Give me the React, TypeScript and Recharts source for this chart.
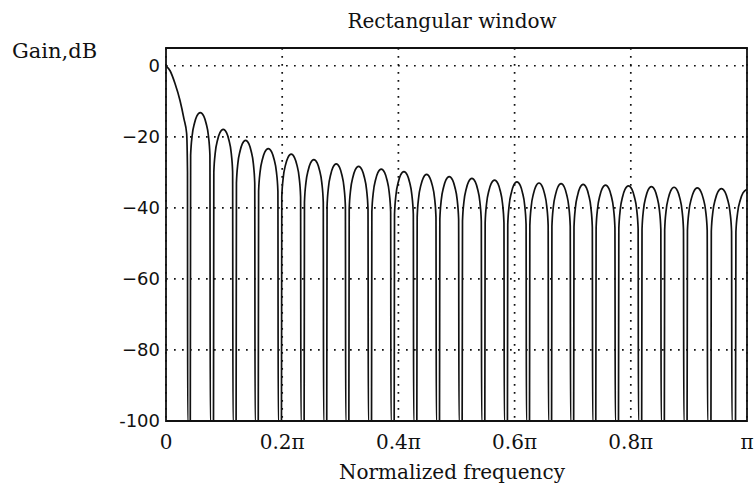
import { CartesianGrid, Line, LineChart, ReferenceArea, XAxis, YAxis } from "recharts";

const FREQ_TICKS = [0, 0.2, 0.4, 0.6, 0.8, 1];
const GAIN_TICKS = [-100, -80, -60, -40, -20, 0];
const FLOOR = -100;

// main lobe, [frequency / π, gain dB]
const MAIN_LOBE: [number, number][] = [
  [0, 0],
  [0.007, -1.4],
  [0.0155, -5],
  [0.024, -9.7],
  [0.031, -15],
  [0.0355, -19],
  [0.037, -30],
  [0.0373, FLOOR],
];

// zeros of the response (frequency / π); the last one sits just past π
const NULLS = [
  0.039, 0.079, 0.118, 0.156, 0.196, 0.235, 0.274, 0.312, 0.351, 0.39, 0.429, 0.468, 0.507,
  0.546, 0.585, 0.623, 0.661, 0.699, 0.737, 0.776, 0.816, 0.855, 0.894, 0.935, 0.977, 1.023,
];

// peak gain of each sidelobe, dB
const SIDELOBE_PEAKS = [
  -13.2, -17.9, -21.0, -23.3, -24.9, -26.4, -27.6, -28.3, -29.1, -29.8, -30.6, -31.2, -31.7,
  -32.2, -32.7, -33.0, -33.2, -33.4, -33.6, -33.8, -34.0, -34.2, -34.4, -34.6, -34.8,
];

// outline of one sidelobe: position between its zeros (0..1), dB below the peak
// (null = drops to the bottom of the plot)
const LOBE_SHAPE: [number, number | null][] = [
  [0.07, null],
  [0.085, -12],
  [0.15, -6.5],
  [0.25, -3],
  [0.35, -1],
  [0.5, 0],
  [0.65, -1],
  [0.75, -3],
  [0.85, -6.5],
  [0.915, -12],
  [0.93, null],
];

const response: { f: number; g: number }[] = MAIN_LOBE.map(([f, g]) => ({ f, g }));
SIDELOBE_PEAKS.forEach((peak, i) => {
  const lo = NULLS[i];
  const hi = NULLS[i + 1];
  LOBE_SHAPE.forEach(([t, drop]) => {
    const f = lo + (hi - lo) * t;
    if (f <= 1.0005) response.push({ f: Math.min(f, 1), g: drop === null ? FLOOR : peak + drop });
  });
});

const serif = "'DejaVu Serif', serif";

const freqLabel = (v: number) => (v === 0 ? "0" : v === 1 ? "π" : `${v}π`);
const gainLabel = (v: number) => (v === 0 ? "0" : v === -100 ? "-100" : `−${Math.abs(v)}`);

export default function App() {
  return (
    <div style={{ position: "absolute", left: 0, top: 0, width: 754, height: 491, background: "#fff" }}>
      <LineChart width={754} height={491} data={response} margin={{ top: 48, right: 7, bottom: 30, left: 106 }}>
        <CartesianGrid stroke="#111" strokeWidth={1.7} strokeDasharray="1.7 6.3" />
        <XAxis
          dataKey="f"
          type="number"
          domain={[0, 1]}
          ticks={FREQ_TICKS}
          tickFormatter={freqLabel}
          axisLine={false}
          tickLine={false}
          tickSize={0}
          tickMargin={14}
          height={40}
          tick={{ fill: "#111", fontSize: 20, fontFamily: serif }}
        />
        <YAxis
          type="number"
          domain={[-100, 5]}
          ticks={GAIN_TICKS}
          tickFormatter={gainLabel}
          axisLine={false}
          tickLine={false}
          tickSize={0}
          tickMargin={6}
          width={60}
          tick={{ fill: "#111", fontSize: 18, fontFamily: "'DejaVu Sans', sans-serif" }}
        />
        <ReferenceArea x1={0} x2={1} y1={-100} y2={5} fill="none" stroke="#111" strokeWidth={1.8} />
        <Line
          dataKey="g"
          type="monotone"
          stroke="#111"
          strokeWidth={1.7}
          dot={false}
          isAnimationActive={false}
        />
        <text x={452} y={28} textAnchor="middle" fontSize={20} fontFamily={serif} fill="#111">
          Rectangular window
        </text>
        <text x={12} y={58} fontSize={21} fontFamily={serif} fill="#111">
          Gain,dB
        </text>
        <text x={452} y={479} textAnchor="middle" fontSize={20} fontFamily={serif} fill="#111">
          Normalized frequency
        </text>
      </LineChart>
    </div>
  );
}
